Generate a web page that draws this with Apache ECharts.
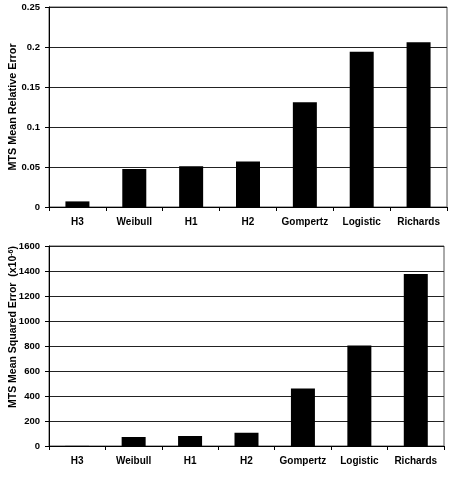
<!DOCTYPE html>
<html>
<head>
<meta charset="utf-8">
<script src="https://cdn.jsdelivr.net/npm/echarts@6/dist/echarts.min.js"></script>
<style>
  html, body { margin: 0; padding: 0; background: #fff; }
  #chart { width: 450px; height: 487px; }
</style>
</head>
<body>
<div id="chart"></div>
<script>
var models = ["H3", "Weibull", "H1", "H2", "Gompertz", "Logistic", "Richards"];
var relErr = [0.007, 0.0475, 0.051, 0.057, 0.131, 0.194, 0.206];
var sqErr = [1, 72, 80, 106, 461, 805, 1376];
var relTicks = [0, 0.05, 0.1, 0.15, 0.2, 0.25];
var sqTicks = [0, 200, 400, 600, 800, 1000, 1200, 1400, 1600];

var font = "Liberation Sans, Arial, sans-serif";

function catAxis(idx) {
    return {
        type: "category",
        gridIndex: idx,
        data: models,
        axisLine: { lineStyle: { color: "#000", width: 1 } },
        axisTick: { show: true, length: 4, lineStyle: { color: "#000" } },
        axisLabel: { interval: 0, color: "#000", fontFamily: font, fontWeight: "bold", fontSize: 10, margin: 10 }
    };
}

function valAxis(idx, ticks, name, nameStyle) {
    return {
        type: "value",
        gridIndex: idx,
        min: ticks[0],
        max: ticks[ticks.length - 1],
        interval: ticks[1] - ticks[0],
        name: name,
        nameLocation: "middle",
        nameGap: 30,
        nameMoveOverlap: false,
        nameTextStyle: nameStyle,
        axisLine: { show: true, lineStyle: { color: "#000", width: 1 } },
        axisTick: { show: true, length: 4, lineStyle: { color: "#000" } },
        axisLabel: {
            color: "#000", fontFamily: font, fontWeight: "bold", fontSize: 9.5, margin: 9,
            formatter: function (v) { return String(Math.round(v * 1000) / 1000); }
        },
        splitLine: { show: true, lineStyle: { color: "#222", width: 1 } }
    };
}

var chart = echarts.init(document.getElementById("chart"));
chart.setOption({
    animation: false,
    backgroundColor: "#fff",
    grid: [
        { left: 49, top: 7, width: 398, height: 200, outerBoundsMode: "none", containLabel: false,
          show: true, borderColor: "#555", borderWidth: 1 },
        { left: 49, top: 246, width: 395, height: 200, outerBoundsMode: "none", containLabel: false,
          show: true, borderColor: "#555", borderWidth: 1 }
    ],
    xAxis: [catAxis(0), catAxis(1)],
    yAxis: [
        valAxis(0, relTicks, "MTS Mean Relative Error",
            { color: "#000", fontFamily: font, fontWeight: "bold", fontSize: 10.8 }),
        valAxis(1, sqTicks, "{a|MTS Mean Squared Error  (x10}{s|-6}{a|)}",
            {
                color: "#000", fontFamily: font, fontWeight: "bold", fontSize: 10.5,
                padding: [0, 0, 0, 38],
                rich: {
                    a: { color: "#000", fontFamily: font, fontWeight: "bold", fontSize: 10.5 },
                    s: { color: "#000", fontFamily: font, fontWeight: "bold", fontSize: 7, verticalAlign: "top", padding: [0, 0, 4, 0] }
                }
            })
    ],
    series: [
        {
            type: "bar",
            xAxisIndex: 0,
            yAxisIndex: 0,
            data: relErr,
            barWidth: 24,
            itemStyle: { color: "#000" }
        },
        {
            type: "bar",
            xAxisIndex: 1,
            yAxisIndex: 1,
            data: sqErr,
            barWidth: 24,
            itemStyle: { color: "#000" }
        }
    ]
});
</script>
</body>
</html>
